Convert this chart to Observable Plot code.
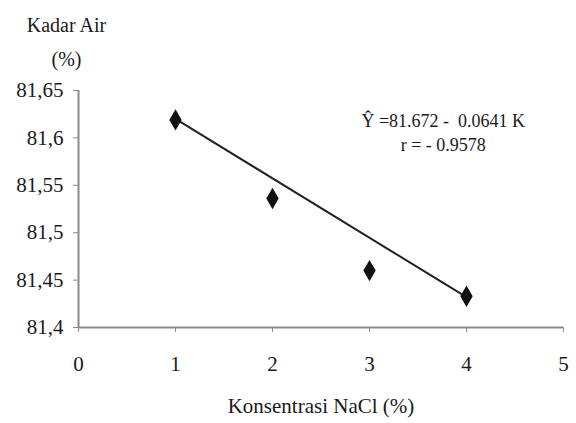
<!DOCTYPE html>
<html>
<head>
<meta charset="utf-8">
<script src="https://cdn.jsdelivr.net/npm/d3@7"></script>
<script src="https://cdn.jsdelivr.net/npm/@observablehq/plot@0.6"></script>
<style>
  html, body { margin: 0; padding: 0; background: #fff; }
  svg { display: block; }
  svg text { font-family: "Liberation Serif", "Times New Roman", serif !important; }
</style>
</head>
<body>
<div id="chart"></div>
<script>
// Data
const konsentrasi = [1, 2, 3, 4];
const kadarAir = [81.619, 81.536, 81.46, 81.433];
// Trend line as drawn
const lineX = [1, 4];
const lineY = [81.62, 81.432];
// Tick values and labels
const xTicks = [0, 1, 2, 3, 4, 5];
const xTickLabels = ["0", "1", "2", "3", "4", "5"];
const yTicks = [81.4, 81.45, 81.5, 81.55, 81.6, 81.65];
const yTickLabels = ["81,4", "81,45", "81,5", "81,55", "81,6", "81,65"];
// Annotation
const annoText = ["Ŷ =81.672 -  0.0641 K", "r = - 0.9578"];
const annoX = [3.76, 3.76];
const annoY = [81.618, 81.592];
const xTitle = "Konsentrasi NaCl (%)";
const yTitle = ["Kadar Air", "(%)"];

const points = konsentrasi.map((k, i) => ({x: k, y: kadarAir[i]}));
const trend = lineX.map((k, i) => ({x: k, y: lineY[i]}));
const anno = annoText.map((t, i) => ({t, x: annoX[i], y: annoY[i]}));
const yLab = new Map(yTicks.map((v, i) => [v, yTickLabels[i]]));
const xLab = new Map(xTicks.map((v, i) => [v, xTickLabels[i]]));

const font = "Liberation Serif";
const axisColor = "#8a8a8a";
const textColor = "#1a1a1a";

const plot = Plot.plot({
  width: 576,
  height: 423,
  marginLeft: 78,
  marginRight: 13,
  marginTop: 90,
  marginBottom: 96,
  style: {fontFamily: font, fontSize: "20px", color: textColor, background: "#fff"},
  x: {domain: [0, 5]},
  y: {domain: [81.4, 81.65]},
  marks: [
    Plot.ruleY([81.4], {stroke: axisColor, strokeWidth: 2}),
    Plot.ruleX([0], {stroke: axisColor, strokeWidth: 2}),
    Plot.axisY({ticks: yTicks, tickFormat: d => yLab.get(d), tickSize: 5, tickPadding: 10, stroke: axisColor, fill: textColor, fontSize: 21, fontFamily: font, label: null}),
    Plot.axisX({ticks: xTicks, tickFormat: d => xLab.get(d), tickSize: 5, tickPadding: 24, stroke: axisColor, fill: textColor, fontSize: 21, fontFamily: font, label: xTitle, labelAnchor: "center", labelArrow: "none", labelOffset: 85}),
    Plot.line(trend, {x: "x", y: "y", stroke: "#222", strokeWidth: 2}),
    Plot.dot(points, {x: "x", y: "y", symbol: "diamond", r: 6.5, fill: "#111", stroke: "none"}),
    Plot.text(anno, {x: "x", y: "y", text: "t", fontSize: 18, fontFamily: font, fill: textColor, textAnchor: "middle"}),
    Plot.text([yTitle[0]], {frameAnchor: "top-left", dx: -12, dy: -73, text: d => d, fontSize: 20, fontFamily: font, textAnchor: "middle", fill: textColor}),
    Plot.text([yTitle[1]], {frameAnchor: "top-left", dx: -12, dy: -39, text: d => d, fontSize: 20, fontFamily: font, textAnchor: "middle", fill: textColor})
  ]
});
document.getElementById("chart").appendChild(plot);
</script>
</body>
</html>
